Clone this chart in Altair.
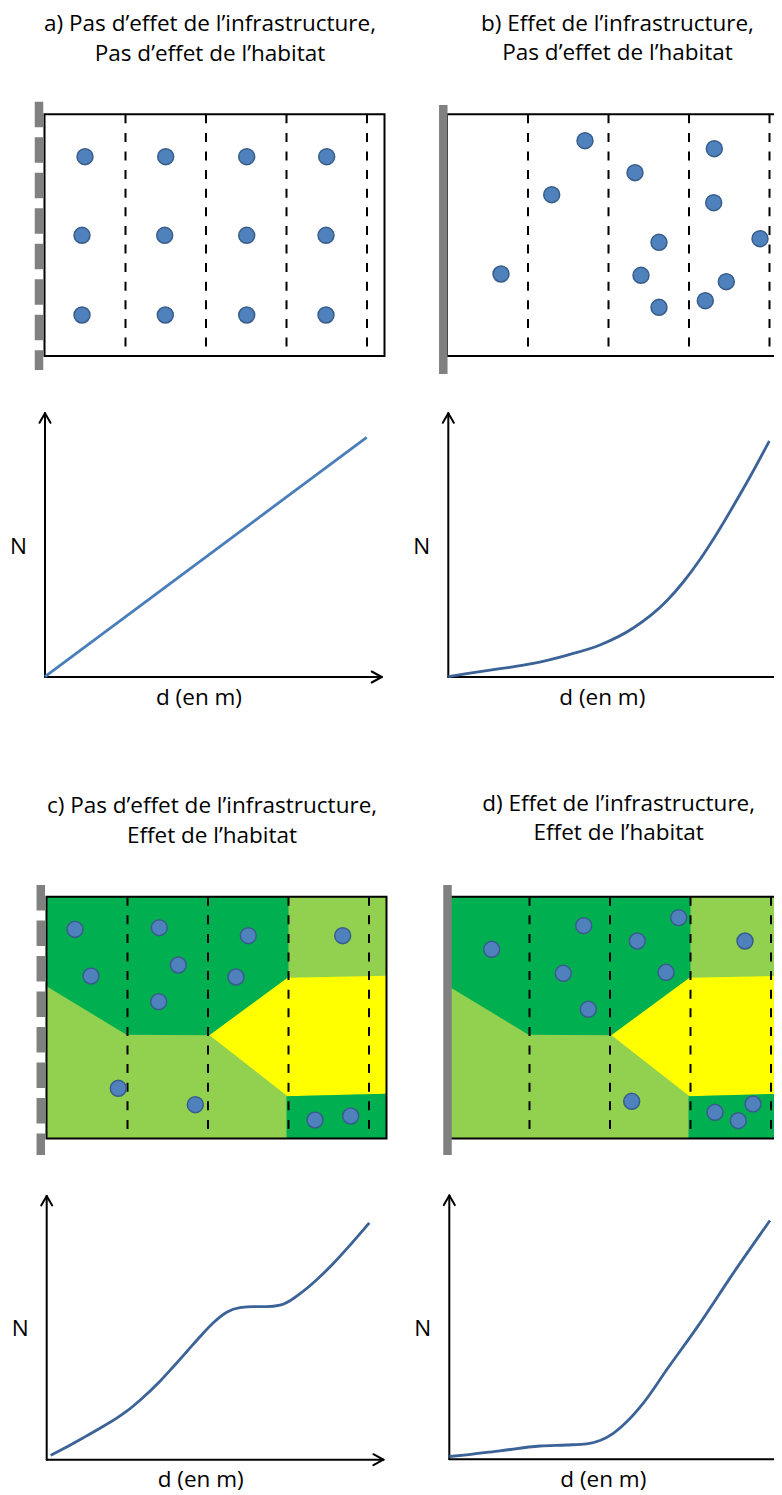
import altair as alt
import pandas as pd

# ------------------------------------------------------------------ data
PANELS = ["a", "b", "c", "d"]
TITLE_L1 = ["a) Pas d’effet de l’infrastructure,", "b) Effet de l’infrastructure,",
            "c) Pas d’effet de l’infrastructure,", "d) Effet de l’infrastructure,"]
TITLE_L2 = ["Pas d’effet de l’habitat", "Pas d’effet de l’habitat",
            "Effet de l’habitat", "Effet de l’habitat"]
Y_LABEL = "N"
X_LABEL = "d (en m)"

# individuals: distance from the road inside the sampled strip, depth from strip top
A_DOT_D = [40.5, 121.2, 202.2, 282.2, 37.5, 120.2, 202.2, 281.5, 37.5, 120.8, 202.2, 281.5]
A_DOT_H = [42.4, 42.4, 42.4, 42.4, 121.0, 121.0, 121.0, 121.0, 200.7, 200.7, 200.7, 200.7]
B_DOT_D = [138.0, 104.7, 54.0, 188.0, 212.0, 194.0, 212.0, 267.3, 266.7, 313.0, 279.3, 258.3]
B_DOT_H = [26.4, 80.4, 159.7, 58.4, 128.0, 161.0, 193.0, 34.4, 88.4, 124.4, 167.4, 186.4]
C_DOT_D = [28.5, 44.5, 112.8, 131.8, 112.2, 201.8, 189.5, 296.2, 71.8, 148.8, 268.5, 304.2]
C_DOT_H = [32.6, 79.3, 31.0, 68.3, 105.0, 39.0, 80.3, 39.0, 191.6, 208.0, 223.3, 219.3]
D_DOT_D = [43.2, 135.2, 114.8, 139.8, 188.8, 230.2, 217.5, 296.5, 183.2, 266.5, 289.8, 304.5]
D_DOT_H = [52.6, 29.0, 76.6, 112.6, 44.3, 21.0, 75.6, 44.3, 204.6, 215.6, 224.0, 207.3]

# habitat patches (panels c and d): x along strip, top / bottom edge of patch
DARK_TL_D = [0, 80, 163, 242]
DARK_TL_TOP = [0, 0, 0, 0]
DARK_TL_BOT = [89.5, 138, 138.5, 81]
YELLOW_D = [163, 241, 340]
YELLOW_TOP = [138.5, 81, 79]
YELLOW_BOT = [138.5, 199.5, 197]
DARK_BR_D = [240, 340]
DARK_BR_TOP = [199.5, 197]
DARK_BR_BOT = [241.7, 241.7]

# response curves N = f(d)
A_CURVE_D = [0, 321.7]
A_CURVE_N = [0.3, 239.7]
B_CURVE_D = [0, 18.3, 51.7, 85.0, 118.3, 151.7, 185.0, 218.3, 235.0, 251.7, 268.3, 285.0, 303.0, 321.0]
B_CURVE_N = [0.3, 3.3, 8.3, 13.6, 21.7, 32.0, 49.0, 76.0, 95.0, 117.5, 143.0, 171.0, 202.5, 236.0]
C_CURVE_D = [4, 20, 36.6, 53.3, 70, 80, 93.3, 113.3, 126.6, 140, 153.3, 166.6, 180,
             193.3, 206.6, 220, 233.3, 243.3, 253.3, 270, 286.6, 303.3, 322.6]
C_CURVE_N = [4.5, 12.8, 22.0, 31.5, 41.5, 48.5, 59.5, 78.5, 93.0, 108.0, 123.0, 137.0, 147.5,
             152.0, 153.0, 153.0, 154.5, 159.0, 166.0, 180.0, 196.2, 214.5, 236.8]
D_CURVE_D = [0, 17.4, 50.7, 90.7, 117.4, 137.4, 150.7, 164, 177.4, 194, 217.4, 250.7, 284, 320.7]
D_CURVE_N = [2.8, 4.5, 8.5, 13.3, 14.3, 15.5, 18.8, 26.0, 37.5, 56.2, 89.5, 136.2, 186.2, 238.8]

DOTS = {"a": (A_DOT_D, A_DOT_H), "b": (B_DOT_D, B_DOT_H),
        "c": (C_DOT_D, C_DOT_H), "d": (D_DOT_D, D_DOT_H)}
CURVES = {"a": (A_CURVE_D, A_CURVE_N), "b": (B_CURVE_D, B_CURVE_N),
          "c": (C_CURVE_D, C_CURVE_N), "d": (D_CURVE_D, D_CURVE_N)}
HABITAT = {"c": True, "d": True}
ROAD_DASHED = {"a": True, "b": False, "c": True, "d": False}

# ------------------------------------------------------------------ layout
BOX = {"a": (44.5, 114.3), "b": (447.0, 114.3), "c": (46.5, 896.7), "d": (448.5, 896.7)}
BOX_W, BOX_H = 340.0, 241.7
ZONE_X = [81.0, 161.5, 242.0, 322.5]
ROAD = {"a": (39.0, 101.7, 370.0), "b": (443.3, 105.0, 374.0),
        "c": (40.8, 885.0, 1155.0), "d": (447.5, 885.0, 1155.0)}
GRAPH = {"a": (45.0, 677.0), "b": (448.3, 677.0), "c": (46.7, 1459.7), "d": (449.3, 1459.3)}
AX_H, AX_W = 263.7, 336.7
TITLE_POS = {"a": (210.0, 31.0, 61.0), "b": (617.5, 31.0, 59.5),
             "c": (212.0, 813.0, 843.3), "d": (618.6, 810.5, 840.2)}
CURVE_COL = {"a": "#4A7EBB", "b": "#3B6397", "c": "#3B6397", "d": "#3B6397"}
DARK_G, LIGHT_G, YELLOW = "#00B050", "#92D050", "#FFFF00"
FONT = "Open Sans"
FS = 22.5

W, H = 766, 1487
XS = alt.Scale(domain=[8, 8 + W], range=[0, W], nice=False, zero=False)
YS = alt.Scale(domain=[8, 8 + H], range=[0, H], nice=False, zero=False)


def X(f="x"):
    return alt.X(f"{f}:Q", scale=XS, axis=None)


def Y(f="y"):
    return alt.Y(f"{f}:Q", scale=YS, axis=None)


# ------------------------------------------------------------------ tables
bg_rows, area_rows, zone_rows, box_rows, road_rows = [], [], [], [], []
dot_rows, seg_rows, curve_rows, text_rows = [], [], [], []

for i, p in enumerate(PANELS):
    bx, by = BOX[p]
    box_rows.append(dict(x=bx, x2=bx + BOX_W, y=by, y2=by + BOX_H))
    if HABITAT.get(p):
        bg_rows.append(dict(x=bx, x2=bx + BOX_W, y=by, y2=by + BOX_H))
        for name, col, ds, tops, bots in [
            ("tl", DARK_G, DARK_TL_D, DARK_TL_TOP, DARK_TL_BOT),
            ("ye", YELLOW, YELLOW_D, YELLOW_TOP, YELLOW_BOT),
            ("br", DARK_G, DARK_BR_D, DARK_BR_TOP, DARK_BR_BOT),
        ]:
            for d, t, b in zip(ds, tops, bots):
                area_rows.append(dict(shape=p + name, col=col, x=bx + d, y=by + t, y2=by + b))
    for zx in ZONE_X:
        zone_rows.append(dict(p=p, x=bx + zx, y=by, y2=by + BOX_H))
    rx, ry1, ry2 = ROAD[p]
    road_rows.append(dict(x=rx, y=ry1, y2=ry2, dashed=ROAD_DASHED[p]))
    for d, h in zip(*DOTS[p]):
        dot_rows.append(dict(x=bx + d, y=by + h))
    ox, oy = GRAPH[p]
    segs = [
        (ox, oy, ox, oy - AX_H),
        (ox, oy, ox + AX_W, oy),
        (ox, oy - AX_H, ox - 5.5, oy - AX_H + 9.5),
        (ox, oy - AX_H, ox + 5.5, oy - AX_H + 9.5),
        (ox + AX_W, oy, ox + AX_W - 10, oy - 5.5),
        (ox + AX_W, oy, ox + AX_W - 10, oy + 5.5),
    ]
    for (x1, y1, x2, y2) in segs:
        seg_rows.append(dict(x=x1, y=y1, x2=x2, y2=y2))
    for k, (d, n) in enumerate(zip(*CURVES[p])):
        curve_rows.append(dict(p=p, col=CURVE_COL[p], o=k, x=ox + d, y=oy - n))
    tx, t1, t2 = TITLE_POS[p]
    text_rows.append(dict(t=TITLE_L1[i], x=tx, y=t1))
    text_rows.append(dict(t=TITLE_L2[i], x=tx, y=t2))
    text_rows.append(dict(t=Y_LABEL, x=ox - 26.5, y=oy - 123.5))
    text_rows.append(dict(t=X_LABEL, x=ox + 154.0, y=oy + 27.6))

bg = pd.DataFrame(bg_rows)
areas = pd.DataFrame(area_rows)
zones = pd.DataFrame(zone_rows)
boxes = pd.DataFrame(box_rows)
roads = pd.DataFrame(road_rows)
dots = pd.DataFrame(dot_rows)
segs = pd.DataFrame(seg_rows)
curves = pd.DataFrame(curve_rows)
texts = pd.DataFrame(text_rows)

# ------------------------------------------------------------------ layers
l_bg = alt.Chart(bg).mark_rect(color=LIGHT_G).encode(x=X(), x2="x2:Q", y=Y(), y2="y2:Q")
l_area = alt.Chart(areas).mark_area(opacity=1).encode(
    x=X(), y=Y(), y2="y2:Q",
    color=alt.Color("col:N", scale=None), detail="shape:N")
l_zone = alt.Chart(zones).mark_rule(color="black", strokeWidth=2, strokeDash=[9, 9.6]).encode(
    x=X(), y=Y(), y2="y2:Q", detail="p:N")
l_box = alt.Chart(boxes).mark_rect(fillOpacity=0, stroke="black", strokeWidth=2).encode(
    x=X(), x2="x2:Q", y=Y(), y2="y2:Q")
l_road_d = alt.Chart(roads[roads.dashed]).mark_rule(
    color="#808080", strokeWidth=8.5, strokeDash=[25.5, 10]).encode(x=X(), y=Y(), y2="y2:Q")
l_road_s = alt.Chart(roads[~roads.dashed]).mark_rule(
    color="#808080", strokeWidth=8.5).encode(x=X(), y=Y(), y2="y2:Q")
l_dots = alt.Chart(dots).mark_circle(
    size=254, opacity=1, fill="#4F81BD", stroke="#385D8A", strokeWidth=1.5).encode(x=X(), y=Y())
l_segs = alt.Chart(segs).mark_rule(color="black", strokeWidth=2, strokeCap="round").encode(
    x=X(), y=Y(), x2="x2:Q", y2="y2:Q")
l_curves = alt.Chart(curves).mark_line(interpolate="monotone", strokeWidth=2.8).encode(
    x=X(), y=Y(), color=alt.Color("col:N", scale=None), detail="p:N", order="o:Q")
l_text = alt.Chart(texts).mark_text(
    align="center", baseline="alphabetic", font=FONT, fontSize=FS, color="black").encode(
    x=X(), y=Y(), text="t:N")

chart = alt.layer(l_bg, l_area, l_zone, l_box, l_road_d, l_road_s, l_dots,
                  l_segs, l_curves, l_text).properties(
    width=W, height=H, padding=0,
    autosize=alt.AutoSizeParams(type="none"),
).configure_view(stroke=None)

chart.save("out.html", embed_options={"renderer": "svg", "actions": False})
